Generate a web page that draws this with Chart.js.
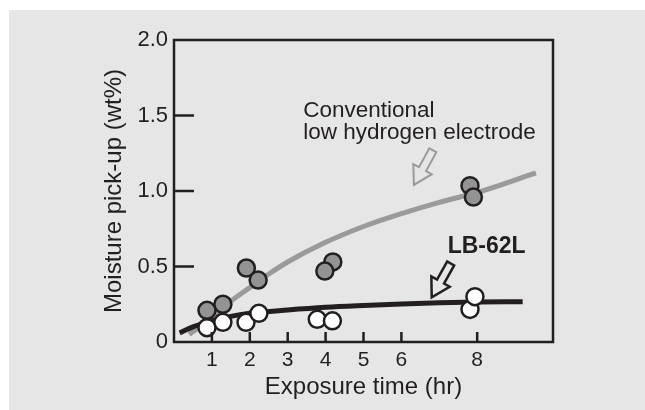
<!DOCTYPE html>
<html>
<head>
<meta charset="utf-8">
<script src="https://cdn.jsdelivr.net/npm/chart.js@4"></script>
<style>
  body { margin: 0; background: #fff; }
  canvas { display: block; }
</style>
</head>
<body>
<canvas id="myChart" width="645" height="410"></canvas>
<script>
// measured points (exposure time in hours, moisture pick-up in wt%)
var convHours    = [0.87, 1.29, 1.91, 2.22, 4.19, 3.98, 7.81, 7.90];
var convMoisture = [0.21, 0.25, 0.49, 0.41, 0.53, 0.47, 1.035, 0.96];
var lbHours      = [0.87, 1.29, 1.90, 2.24, 3.78, 4.18, 7.81, 7.94];
var lbMoisture   = [0.095, 0.13, 0.13, 0.19, 0.15, 0.14, 0.216, 0.30];

// fitted curves
var convCurveHours  = [0.4, 1, 1.5, 2, 2.5, 3, 4, 5, 6, 7, 8, 9.55];
var convCurveValues = [0.05, 0.16, 0.27, 0.36, 0.45, 0.53, 0.66, 0.765, 0.85, 0.925, 0.99, 1.12];
var lbCurveHours    = [0.15, 0.5, 1, 1.5, 2, 3, 4, 5, 6, 7, 8, 9.2];
var lbCurveValues   = [0.06, 0.10, 0.14, 0.17, 0.19, 0.212, 0.23, 0.242, 0.252, 0.26, 0.265, 0.267];

// tick labels
var xTicks = [1, 2, 3, 4, 5, 6, 8];
var yTicks = [0, 0.5, 1.0, 1.5, 2.0];

// annotations (in data units)
var convLabel = ['Conventional', 'low hydrogen electrode'];
var convLabelAt = {x: 3.41, y: 1.488};
var lbLabel = 'LB-62L';
var lbLabelAt = {x: 7.22, y: 0.587};
var convArrow = {tip: {x: 6.33, y: 1.04}, tail: {x: 6.83, y: 1.27}};
var lbArrow = {tip: {x: 6.80, y: 0.296}, tail: {x: 7.30, y: 0.52}};

var ink = '#231f20';
var font = '"Liberation Sans", Arial, Helvetica, sans-serif';

function pts(xs, ys) {
    return xs.map(function (x, i) { return {x: x, y: ys[i]}; });
}

function drawArrow(ctx, chart, a, color, width) {
    var xs = chart.scales.x, ys = chart.scales.y;
    var tx = xs.getPixelForValue(a.tip.x), ty = ys.getPixelForValue(a.tip.y);
    var bx = xs.getPixelForValue(a.tail.x), by = ys.getPixelForValue(a.tail.y);
    var len = Math.hypot(bx - tx, by - ty);
    var ux = (bx - tx) / len, uy = (by - ty) / len;
    var vx = -uy, vy = ux;
    var headLen = 18, headW = 21, shaftW = 8;
    var local = [[0, 0], [headLen, -headW / 2], [headLen, -shaftW / 2], [len, -shaftW / 2],
                 [len, shaftW / 2], [headLen, shaftW / 2], [headLen, headW / 2]];
    ctx.save();
    ctx.beginPath();
    local.forEach(function (p, i) {
        var px = tx + ux * p[0] + vx * p[1];
        var py = ty + uy * p[0] + vy * p[1];
        if (i === 0) ctx.moveTo(px, py); else ctx.lineTo(px, py);
    });
    ctx.closePath();
    ctx.strokeStyle = color;
    ctx.lineWidth = width;
    ctx.lineJoin = 'miter';
    ctx.stroke();
    ctx.restore();
}

var decor = {
    id: 'decor',
    beforeDraw: function (chart) {
        var ctx = chart.ctx;
        ctx.save();
        ctx.fillStyle = '#ffffff';
        ctx.fillRect(0, 0, chart.width, chart.height);
        ctx.fillStyle = '#e6e6e6';
        ctx.fillRect(9, 10, chart.width - 9, chart.height - 10);
        ctx.restore();
    },
    afterDraw: function (chart) {
        var ctx = chart.ctx, a = chart.chartArea;
        var xs = chart.scales.x, ys = chart.scales.y;
        ctx.save();
        // frame
        ctx.strokeStyle = ink;
        ctx.lineWidth = 2.5;
        ctx.strokeRect(a.left, a.top, a.right - a.left, a.bottom - a.top);
        // inward ticks
        ctx.beginPath();
        xTicks.forEach(function (v) {
            var px = xs.getPixelForValue(v);
            ctx.moveTo(px, a.bottom);
            ctx.lineTo(px, a.bottom - 10);
        });
        yTicks.forEach(function (v) {
            if (v === 0 || v === 2) return;
            var py = ys.getPixelForValue(v);
            ctx.moveTo(a.left, py);
            ctx.lineTo(a.left + 20, py);
        });
        ctx.stroke();

        // labels
        ctx.fillStyle = ink;
        ctx.textBaseline = 'alphabetic';
        ctx.textAlign = 'left';
        ctx.font = '22.5px ' + font;
        var cx = xs.getPixelForValue(convLabelAt.x), cy = ys.getPixelForValue(convLabelAt.y);
        convLabel.forEach(function (t, i) { ctx.fillText(t, cx, cy + i * 22); });
        ctx.font = 'bold 23px ' + font;
        ctx.fillText(lbLabel, xs.getPixelForValue(lbLabelAt.x), ys.getPixelForValue(lbLabelAt.y));
        ctx.restore();

        drawArrow(ctx, chart, convArrow, '#9a9a9a', 2);
        drawArrow(ctx, chart, lbArrow, ink, 2.5);
    }
};

var ctx = document.getElementById('myChart').getContext('2d');
var chart = new Chart(ctx, {
    type: 'scatter',
    data: {
        datasets: [{
            label: 'LB-62L',
            data: pts(lbHours, lbMoisture),
            backgroundColor: '#ffffff',
            borderColor: ink,
            borderWidth: 2.5,
            pointRadius: 8.5,
            order: 0
        }, {
            label: 'Conventional',
            data: pts(convHours, convMoisture),
            backgroundColor: '#939393',
            borderColor: ink,
            borderWidth: 2.5,
            pointRadius: 8.5,
            order: 1
        }, {
            type: 'line',
            label: 'LB-62L fit',
            data: pts(lbCurveHours, lbCurveValues),
            borderColor: ink,
            borderWidth: 5,
            pointRadius: 0,
            fill: false,
            cubicInterpolationMode: 'monotone',
            order: 2
        }, {
            type: 'line',
            label: 'Conventional fit',
            data: pts(convCurveHours, convCurveValues),
            borderColor: '#9a9a9a',
            borderWidth: 5,
            pointRadius: 0,
            fill: false,
            cubicInterpolationMode: 'monotone',
            order: 3
        }]
    },
    options: {
        responsive: false,
        animation: false,
        devicePixelRatio: 1,
        layout: { padding: { top: 40, right: 92, left: 0, bottom: 0 } },
        plugins: {
            legend: { display: false },
            tooltip: { enabled: false }
        },
        scales: {
            x: {
                type: 'linear',
                min: 0,
                max: 10,
                afterFit: function (s) { s.height = 68; },
                afterBuildTicks: function (s) { s.ticks = xTicks.map(function (v) { return {value: v}; }); },
                grid: { display: false, drawTicks: false },
                border: { display: false },
                ticks: {
                    padding: 6,
                    color: ink,
                    font: { family: font, size: 21 },
                    callback: function (v) { return String(v); }
                },
                title: {
                    display: true,
                    text: 'Exposure time (hr)',
                    color: ink,
                    font: { family: font, size: 24 },
                    padding: { top: 0, bottom: 8 }
                }
            },
            y: {
                type: 'linear',
                min: 0,
                max: 2,
                afterFit: function (s) { s.width = 174; },
                afterBuildTicks: function (s) { s.ticks = yTicks.map(function (v) { return {value: v}; }); },
                grid: { display: false, drawTicks: false },
                border: { display: false },
                ticks: {
                    padding: 6,
                    color: ink,
                    font: { family: font, size: 22 },
                    callback: function (v) { return v === 0 ? '0' : v.toFixed(1); }
                },
                title: {
                    display: true,
                    text: 'Moisture pick-up (wt%)',
                    color: ink,
                    font: { family: font, size: 24 },
                    padding: { top: 100, bottom: 0 }
                }
            }
        }
    },
    plugins: [decor]
});
</script>
</body>
</html>
